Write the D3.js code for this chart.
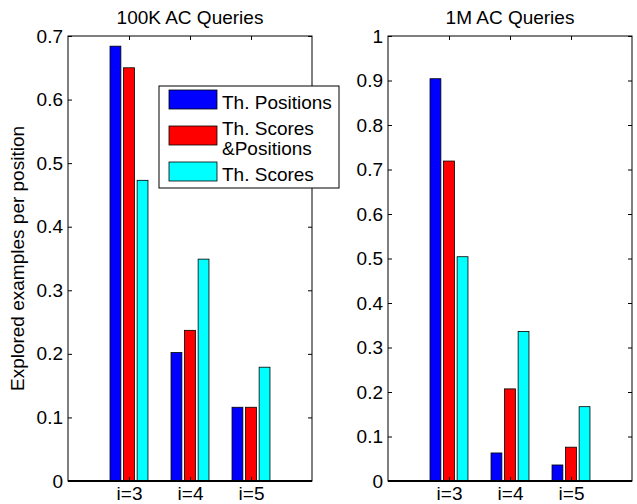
<!DOCTYPE html>
<html>
<head>
<meta charset="utf-8">
<script src="https://cdn.jsdelivr.net/npm/d3@7"></script>
<style>
	body { margin: 0; background: #fff; }
	svg { display: block; font-family: "Liberation Sans", Arial, sans-serif; }
	text { fill: #000; }
</style>
</head>
<body>
<div id="svg-container"></div>
<script>
// values
var categories = ['i=3', 'i=4', 'i=5'],
	series = ['Th. Positions', 'Th. Scores\n&Positions', 'Th. Scores'],
	colors = ['#0000ff', '#ff0000', '#00ffff'],
	values100k = [
		[0.684, 0.202, 0.116],
		[0.650, 0.237, 0.116],
		[0.473, 0.349, 0.179]
	],
	values1m = [
		[0.904, 0.063, 0.036],
		[0.719, 0.207, 0.076],
		[0.504, 0.336, 0.167]
	],
	ticks100k = [0, 0.1, 0.2, 0.3, 0.4, 0.5, 0.6, 0.7],
	ticks1m = [0, 0.1, 0.2, 0.3, 0.4, 0.5, 0.6, 0.7, 0.8, 0.9, 1],
	titles = ['100K AC Queries', '1M AC Queries'],
	yLabel = 'Explored examples per position';

var svg_width = 637,
	svg_height = 504,
	plot_top = 36,
	plot_bottom = 481,
	tick_len = 4,
	font_size = 19,
	group_step = 0.2222,
	bar_w = 0.1778;

var svg = d3.select("#svg-container").append("svg")
	.attr("width", svg_width)
	.attr("height", svg_height);

function drawPanel(left, right, values, ticks, title) {
	var x = d3.scaleLinear().domain([0, categories.length + 1]).range([left, right]),
		y = d3.scaleLinear().domain([0, d3.max(ticks)]).range([plot_bottom, plot_top]),
		g = svg.append("g");

	// bars, one group per series
	values.forEach(function (vals, s) {
		g.selectAll("rect.s" + s)
			.data(vals).enter().append("rect")
			.attr("class", "s" + s)
			.attr("x", function (d, i) { return x(i + 1 + (s - 1) * group_step - bar_w / 2); })
			.attr("width", x(bar_w) - x(0))
			.attr("y", function (d) { return y(d); })
			.attr("height", function (d) { return y(0) - y(d); })
			.attr("fill", colors[s])
			.attr("stroke", "#000")
			.attr("stroke-width", 0.8);
	});

	var catTicks = categories.map(function (c, i) { return i + 1; }),
		fmt = d3.format(".1~f");

	var axes = [
		g.append("g").attr("transform", "translate(" + left + ",0)")
			.call(d3.axisLeft(y).tickValues(ticks).tickSize(-tick_len).tickPadding(5).tickFormat(fmt)),
		g.append("g").attr("transform", "translate(" + right + ",0)")
			.call(d3.axisRight(y).tickValues(ticks).tickSize(-tick_len).tickFormat("")),
		g.append("g").attr("transform", "translate(0," + plot_bottom + ")")
			.call(d3.axisBottom(x).tickValues(catTicks).tickSize(-tick_len).tickPadding(6)
				.tickFormat(function (d) { return categories[d - 1]; })),
		g.append("g").attr("transform", "translate(0," + plot_top + ")")
			.call(d3.axisTop(x).tickValues(catTicks).tickSize(-tick_len).tickFormat(""))
	];
	axes.forEach(function (a) {
		a.select(".domain").remove();
		a.attr("font-size", font_size).attr("font-family", null);
		a.selectAll("line").attr("stroke", "#000");
	});

	// box
	g.append("rect")
		.attr("x", left).attr("y", plot_top)
		.attr("width", right - left).attr("height", plot_bottom - plot_top)
		.attr("fill", "none").attr("stroke", "#000").attr("stroke-width", 1);
	g.append("line")
		.attr("x1", left).attr("x2", right)
		.attr("y1", y(0)).attr("y2", y(0))
		.attr("stroke", "#000").attr("stroke-width", 2);

	g.append("text")
		.attr("x", (left + right) / 2)
		.attr("y", 23.5)
		.attr("text-anchor", "middle")
		.attr("font-size", font_size)
		.text(title);
}

drawPanel(68, 312, values100k, ticks100k, titles[0]);
drawPanel(388, 632, values1m, ticks1m, titles[1]);

svg.append("text")
	.attr("transform", "translate(24," + ((plot_top + plot_bottom) / 2) + ") rotate(-90)")
	.attr("text-anchor", "middle")
	.attr("font-size", font_size)
	.text(yLabel);

// legend
var legend = svg.append("g").attr("transform", "translate(159,86)");
legend.append("rect")
	.attr("width", 180).attr("height", 102)
	.attr("fill", "#fff").attr("stroke", "#000").attr("stroke-width", 1);

var entry = legend.selectAll("g.entry")
	.data(series).enter().append("g")
	.attr("class", "entry")
	.attr("transform", function (d, i) { return "translate(0," + (14 + i * 36) + ")"; });

entry.append("rect")
	.attr("x", 10).attr("y", -10)
	.attr("width", 48).attr("height", 19)
	.attr("fill", function (d, i) { return colors[i]; })
	.attr("stroke", "#000").attr("stroke-width", 0.8);

entry.each(function (d) {
	var lines = d.split("\n"),
		t = d3.select(this).append("text")
			.attr("font-size", font_size)
			.attr("y", 9 - (lines.length - 1) * 9.7);
	lines.forEach(function (l, k) {
		t.append("tspan").attr("x", 63).attr("dy", k ? 19.3 : 0).text(l);
	});
});
</script>
</body>
</html>
